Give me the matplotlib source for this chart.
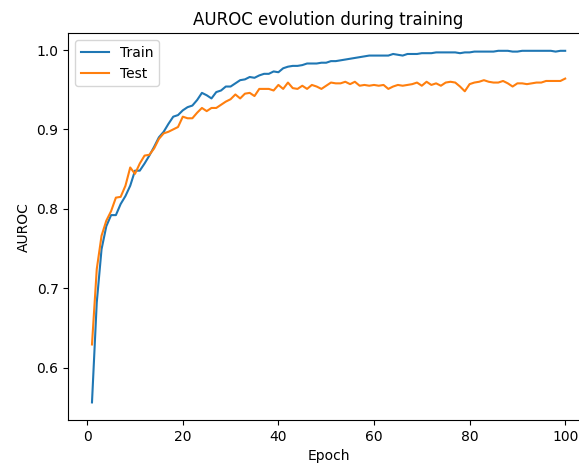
import numpy as np
import matplotlib.pyplot as plt

epochs = np.arange(1, 101)

train_auroc = [
    0.556, 0.682, 0.749, 0.778, 0.792, 0.792, 0.806, 0.816, 0.829, 0.848,
    0.848, 0.857, 0.867, 0.878, 0.890, 0.897, 0.907, 0.916, 0.918, 0.924,
    0.928, 0.930, 0.937, 0.946, 0.943, 0.939, 0.947, 0.949, 0.954, 0.954,
    0.958, 0.962, 0.963, 0.966, 0.965, 0.968, 0.970, 0.970, 0.973, 0.972,
    0.977, 0.979, 0.980, 0.980, 0.981, 0.983, 0.983, 0.983, 0.984, 0.984,
    0.986, 0.986, 0.987, 0.988, 0.989, 0.990, 0.991, 0.992, 0.993, 0.993,
    0.993, 0.993, 0.993, 0.995, 0.994, 0.993, 0.995, 0.995, 0.995, 0.996,
    0.996, 0.996, 0.997, 0.997, 0.997, 0.997, 0.997, 0.996, 0.997, 0.997,
    0.998, 0.998, 0.998, 0.998, 0.998, 0.999, 0.999, 0.999, 0.998, 0.998,
    0.999, 0.999, 0.999, 0.999, 0.999, 0.999, 0.999, 0.998, 0.999, 0.999,
]

test_auroc = [
    0.629, 0.724, 0.766, 0.785, 0.797, 0.814, 0.815, 0.829, 0.852, 0.844,
    0.857, 0.867, 0.868, 0.876, 0.888, 0.895, 0.897, 0.900, 0.903, 0.916,
    0.914, 0.914, 0.921, 0.927, 0.923, 0.927, 0.927, 0.931, 0.935, 0.938,
    0.944, 0.939, 0.945, 0.946, 0.942, 0.951, 0.951, 0.951, 0.949, 0.956,
    0.951, 0.959, 0.952, 0.951, 0.955, 0.951, 0.956, 0.954, 0.951, 0.955,
    0.959, 0.958, 0.958, 0.960, 0.957, 0.960, 0.955, 0.956, 0.955, 0.956,
    0.955, 0.956, 0.951, 0.954, 0.956, 0.955, 0.956, 0.957, 0.959, 0.955,
    0.960, 0.956, 0.958, 0.955, 0.959, 0.960, 0.959, 0.954, 0.948, 0.957,
    0.959, 0.960, 0.962, 0.960, 0.959, 0.959, 0.961, 0.958, 0.954, 0.958,
    0.958, 0.957, 0.958, 0.959, 0.959, 0.961, 0.961, 0.961, 0.961, 0.964,
]

fig = plt.figure(figsize=(5.79, 4.66), dpi=100)
ax = fig.add_axes([0.118, 0.0987, 0.899, 0.830])

ax.plot(epochs, train_auroc, label="Train")
ax.plot(epochs, test_auroc, label="Test")
ax.set_xlabel("Epoch")
ax.set_ylabel("AUROC")
ax.set_title("AUROC evolution during training")
ax.legend(loc="upper left")

fig.savefig("out.png", dpi=100)
